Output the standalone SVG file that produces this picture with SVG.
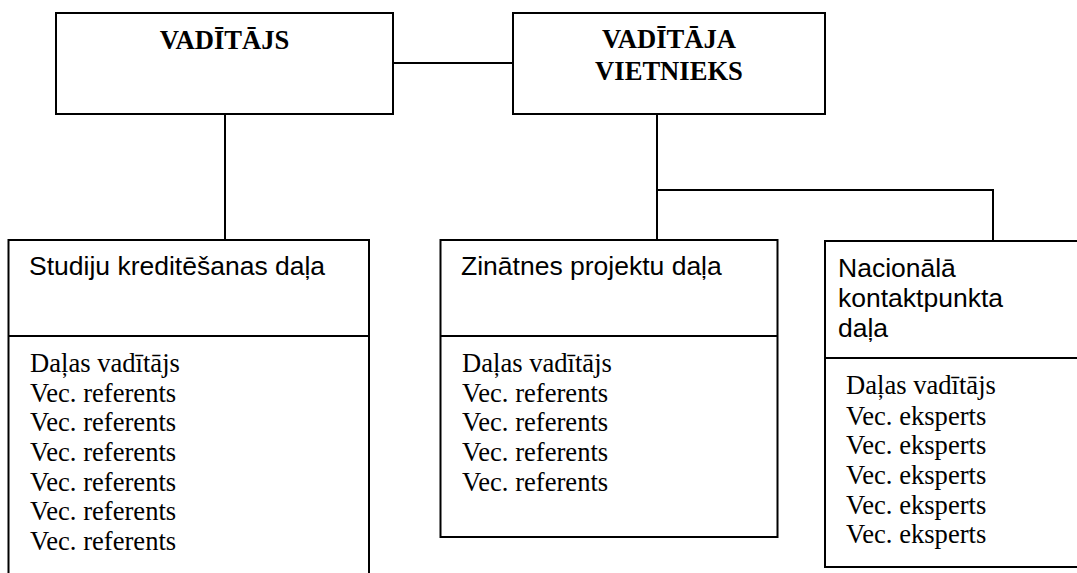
<svg xmlns="http://www.w3.org/2000/svg" width="1077" height="573" viewBox="0 0 1077 573">
<style>
.box{fill:#fff;stroke:#000;stroke-width:2}
.div{stroke:#000;stroke-width:2}
.con{fill:none;stroke:#000;stroke-width:2}
.hb{font-family:"Liberation Serif","Times New Roman",serif;font-weight:bold;font-size:26.6px;text-anchor:middle;fill:#000}
.hs{font-family:"Liberation Sans",Arial,sans-serif;font-size:26.5px;fill:#000}
.bt{font-family:"Liberation Serif","Times New Roman",serif;font-size:26.6px;fill:#000}
</style>
<rect width="1077" height="573" fill="#fff"/>
<g id="connectors">
<line class="con" x1="393" y1="63" x2="513" y2="63"/>
<line class="con" x1="225" y1="114" x2="225" y2="240"/>
<line class="con" x1="657" y1="114" x2="657" y2="240"/>
<polyline class="con" points="657,190 993,190 993,241"/>
</g>
<g id="vaditajs">
<rect class="box" x="56" y="13" width="337" height="101"/>
<text class="hb" x="224.5" y="49">VADĪTĀJS</text>
</g>
<g id="vietnieks">
<rect class="box" x="513" y="13" width="312" height="101"/>
<text class="hb" x="669" y="48">VADĪTĀJA</text>
<text class="hb" x="669" y="80">VIETNIEKS</text>
</g>
<g id="studiju">
<rect class="box" x="8.5" y="240" width="360.5" height="400"/>
<line class="div" x1="8.5" y1="336" x2="369" y2="336"/>
<text class="hs" x="29" y="275">Studiju kreditēšanas daļa</text>
<text class="bt" x="30" y="372">Daļas vadītājs</text>
<text class="bt" x="30" y="401.7">Vec. referents</text>
<text class="bt" x="30" y="431.4">Vec. referents</text>
<text class="bt" x="30" y="461">Vec. referents</text>
<text class="bt" x="30" y="490.7">Vec. referents</text>
<text class="bt" x="30" y="520.4">Vec. referents</text>
<text class="bt" x="30" y="550">Vec. referents</text>
</g>
<g id="zinatnes">
<rect class="box" x="440.5" y="240" width="337" height="297"/>
<line class="div" x1="440.5" y1="336" x2="777.5" y2="336"/>
<text class="hs" x="461" y="275">Zinātnes projektu daļa</text>
<text class="bt" x="462" y="372">Daļas vadītājs</text>
<text class="bt" x="462" y="401.7">Vec. referents</text>
<text class="bt" x="462" y="431.4">Vec. referents</text>
<text class="bt" x="462" y="461">Vec. referents</text>
<text class="bt" x="462" y="490.7">Vec. referents</text>
</g>
<g id="nacionala">
<rect class="box" x="825" y="241" width="300" height="326"/>
<line class="div" x1="825" y1="358" x2="1125" y2="358"/>
<text class="hs" x="838" y="277">Nacionālā</text>
<text class="hs" x="838" y="307">kontaktpunkta</text>
<text class="hs" x="838" y="337">daļa</text>
<text class="bt" x="846" y="394">Daļas vadītājs</text>
<text class="bt" x="846" y="424.5">Vec. eksperts</text>
<text class="bt" x="846" y="454">Vec. eksperts</text>
<text class="bt" x="846" y="484">Vec. eksperts</text>
<text class="bt" x="846" y="513.5">Vec. eksperts</text>
<text class="bt" x="846" y="543">Vec. eksperts</text>
</g>
</svg>
